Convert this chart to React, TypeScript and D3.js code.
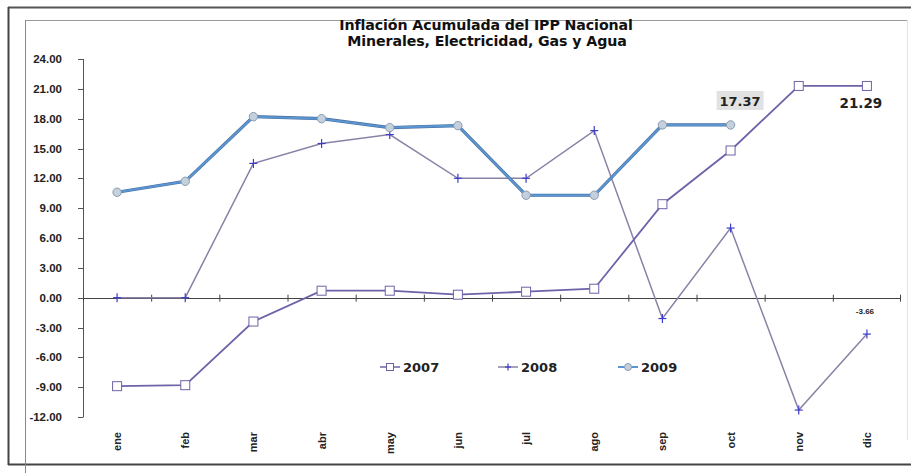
import React from "react";
import * as d3 from "d3";

const months = ["ene", "feb", "mar", "abr", "may", "jun", "jul", "ago", "sep", "oct", "nov", "dic"];
const s2007 = [-8.9, -8.8, -2.4, 0.7, 0.7, 0.3, 0.6, 0.9, 9.4, 14.8, 21.29, 21.29];
const s2008 = [0, 0, 13.5, 15.5, 16.4, 12.0, 12.0, 16.8, -2.1, 7.0, -11.3, -3.66];
const s2009 = [10.6, 11.7, 18.2, 18.0, 17.1, 17.3, 10.3, 10.3, 17.37, 17.37];
const yTicks = [24, 21, 18, 15, 12, 9, 6, 3, 0, -3, -6, -9, -12];
const seriesNames = ["2007", "2008", "2009"];

const W = 911, H = 473;
const x = d3.scalePoint<string>().domain(months).range([83, 901]).padding(0.5);
const y = d3.scaleLinear().domain([-12, 24]).range([417, 59]);
const step = x.step();

const c2007 = "#6E62A8";
const c2008 = "#8A82A6";
const c2009 = "#5A96D2";
const markerBlue = "#3C3CC8";

function linePath(vals: number[]) {
  return d3.line<number>().x((_, i) => x(months[i])!).y(d => y(d))(vals) || "";
}

function Square({ cx, cy, s = 9 }: { cx: number; cy: number; s?: number }) {
  return <rect x={cx - s / 2} y={cy - s / 2} width={s} height={s} fill="#fff" stroke="#6E62A8" strokeWidth={1} />;
}
function Plus({ cx, cy, s = 4.5 }: { cx: number; cy: number; s?: number }) {
  return (
    <g stroke={markerBlue} strokeWidth={1.2}>
      <line x1={cx - s + 0.5} x2={cx + s - 0.5} y1={cy} y2={cy} />
      <line x1={cx} x2={cx} y1={cy - s} y2={cy + s} />
    </g>
  );
}
function Circ({ cx, cy, r = 4.2 }: { cx: number; cy: number; r?: number }) {
  return <circle cx={cx} cy={cy} r={r} fill="#C4D0DC" stroke="#8A9CB0" strokeWidth={1} />;
}

export default function App() {
  const font = "Arial, 'Liberation Sans', sans-serif";
  const wide = "'DejaVu Sans', Verdana, sans-serif";
  const legendX = [390, 508, 628];
  return (
    <svg width={W} height={H} style={{ position: "absolute", left: 0, top: 0 }} fontFamily={font}>
      <rect x={0} y={0} width={W} height={H} fill="#fff" />
      {/* frames */}
      <line x1={8} x2={W} y1={7.5} y2={7.5} stroke="#555" strokeWidth={2} />
      <line x1={8.5} x2={8.5} y1={7} y2={465} stroke="#444" strokeWidth={2} />
      <line x1={8} x2={W} y1={464.5} y2={464.5} stroke="#444" strokeWidth={2} />
      <line x1={26} x2={907} y1={20.5} y2={20.5} stroke="#999" strokeWidth={1} />
      <line x1={25.5} x2={25.5} y1={20} y2={H} stroke="#888" strokeWidth={1} />
      <line x1={907.5} x2={907.5} y1={20} y2={440} stroke="#e4e4e4" strokeWidth={1} />

      {/* title */}
      <text x={486} y={30} textAnchor="middle" fontSize={14.2} fontWeight="bold" fill="#111" fontFamily={wide} letterSpacing={-0.1}>
        Inflación Acumulada del IPP Nacional
      </text>
      <text x={487} y={46} textAnchor="middle" fontSize={14.2} fontWeight="bold" fill="#111" fontFamily={wide} letterSpacing={-0.1}>
        Minerales, Electricidad, Gas y Agua
      </text>

      {/* y axis */}
      <line x1={83.5} x2={83.5} y1={y(24)} y2={y(-12)} stroke="#555" strokeWidth={1} />
      {yTicks.map(t => (
        <g key={t}>
          <line x1={78} x2={83.5} y1={Math.round(y(t)) + 0.5} y2={Math.round(y(t)) + 0.5} stroke="#555" />
          <text x={62} y={y(t) + 4} textAnchor="end" fontSize={11.5} fontWeight="bold" fill="#222">
            {t.toFixed(2)}
          </text>
        </g>
      ))}

      {/* x axis at zero */}
      <line x1={83} x2={901} y1={Math.round(y(0)) + 0.5} y2={Math.round(y(0)) + 0.5} stroke="#444" strokeWidth={1} />
      {months.map(m => (
        <line key={"t" + m} x1={x(m)! - step / 2 + 0.5} x2={x(m)! - step / 2 + 0.5} y1={y(0) - 3} y2={y(0) + 4} stroke="#444" />
      ))}
      <line x1={900.5} x2={900.5} y1={y(0) - 3} y2={y(0) + 4} stroke="#444" />
      {months.map(m => (
        <text key={m} transform={`translate(${x(m)! + 4},${432}) rotate(-90)`} textAnchor="end" fontSize={11} fontWeight="bold" fill="#222">
          {m}
        </text>
      ))}

      {/* series */}
      <path d={linePath(s2008)} fill="none" stroke={c2008} strokeWidth={1.5} />
      <path d={linePath(s2007)} fill="none" stroke={c2007} strokeWidth={1.8} />
      <path d={linePath(s2009)} fill="none" stroke="#4A6FA0" strokeWidth={3.2} />
      <path d={linePath(s2009)} fill="none" stroke={c2009} strokeWidth={2} />
      {s2008.map((v, i) => <Plus key={"p" + i} cx={x(months[i])!} cy={y(v)} />)}
      {s2007.map((v, i) => <Square key={"s" + i} cx={x(months[i])!} cy={y(v)} />)}
      {s2009.map((v, i) => <Circ key={"c" + i} cx={x(months[i])!} cy={y(v)} />)}

      {/* data labels */}
      <rect x={x("oct")! - 14} y={91} width={47} height={19} fill="#E2E2E2" />
      <text x={x("oct")! + 9.5} y={106} textAnchor="middle" fontSize={13} fontWeight="bold" fill="#222" fontFamily={wide}>
        {s2009[9].toFixed(2)}
      </text>
      <text x={x("dic")! - 6} y={108} textAnchor="middle" fontSize={13.5} fontWeight="bold" fill="#222" fontFamily={wide}>
        {s2007[11].toFixed(2)}
      </text>
      <text x={x("dic")! - 2} y={314} textAnchor="middle" fontSize={8} fontWeight="bold" fill="#222">
        {s2008[11].toFixed(2)}
      </text>

      {/* legend */}
      {seriesNames.map((n, i) => {
        const lx = legendX[i];
        const ly = 367;
        return (
          <g key={n}>
            <line x1={lx - 10} x2={lx + 10} y1={ly} y2={ly} stroke={[c2007, c2008, c2009][i]} strokeWidth={i === 2 ? 2 : 1.5} />
            {i === 0 && <Square cx={lx} cy={ly} s={7} />}
            {i === 1 && <Plus cx={lx} cy={ly} s={3.5} />}
            {i === 2 && <Circ cx={lx} cy={ly} r={3.5} />}
            <text x={lx + 13} y={ly + 5} fontSize={13} fontWeight="bold" fill="#222" fontFamily={wide}>{n}</text>
          </g>
        );
      })}
    </svg>
  );
}
